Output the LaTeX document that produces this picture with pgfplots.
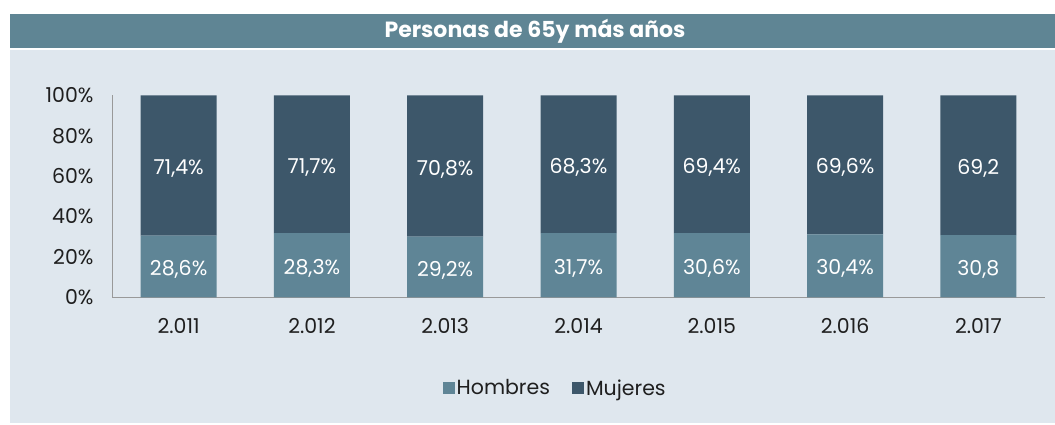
\documentclass[border=0pt]{standalone}
\usepackage{pgfplots}
\pgfplotsset{compat=1.18}
\usepackage{fontspec}
\setmainfont{Poppins}
\definecolor{hom}{RGB}{95,133,150}
\definecolor{muj}{RGB}{61,87,106}
\definecolor{bg}{RGB}{223,231,238}
\definecolor{tbar}{RGB}{95,133,148}
\newcommand{\fs}{\fontsize{20.5}{24}\selectfont}
\begin{document}
\begin{tikzpicture}[x=1pt,y=1pt]
\fill[white] (0,0) rectangle (1055,-424);
\fill[tbar] (10,-14) rectangle (1055,-48);
\fill[bg] (10,-50) rectangle (1055,-423);
\node[text=white, font=\fontsize{22}{26}\selectfont\bfseries] at (535,-31) {Personas de 65y más años};
\begin{axis}[
  at={(112pt,-297.3pt)}, anchor=south west,
  scale only axis, width=933pt, height=202pt,
  ybar stacked, bar width=76pt,
  xmin=-0.5, xmax=6.5, ymin=0, ymax=100,
  xtick={0,1,2,3,4,5,6},
  xticklabels={2.011,2.012,2.013,2.014,2.015,2.016,2.017},
  ytick={0,20,40,60,80,100},
  yticklabels={0\%,20\%,40\%,60\%,80\%,100\%},
  axis x line*=bottom, axis y line*=left,
  axis line style={-, draw=black!40, line width=1pt},
  tick style={draw=none},
  ticklabel style={font=\fs, text=black!88},
  yticklabel style={xshift=-15pt},
  xticklabel style={yshift=-18pt},
  clip=false,
  legend style={at={(0.475,-0.449)}, anchor=center, draw=none, fill=none,
    font=\fs, text=black!88, legend columns=2,
    /tikz/every even column/.append style={column sep=20pt}},
  legend image code/.code={\fill[#1] (0pt,-6pt) rectangle (12pt,6pt);},
]
\addplot[fill=hom, draw=none] coordinates {(0,30.5) (1,31.8) (2,30.0) (3,31.8) (4,31.8) (5,31.2) (6,30.8)};
\addplot[fill=muj, draw=none] coordinates {(0,69.5) (1,68.2) (2,70.0) (3,68.2) (4,68.2) (5,68.8) (6,69.2)};
\legend{Hombres,Mujeres}
\end{axis}
\begin{axis}[
  at={(112pt,-297.3pt)}, anchor=south west,
  scale only axis, width=933pt, height=202pt,
  xmin=-0.5, xmax=6.5, ymin=0, ymax=100,
  hide axis, clip=false,
]
\addplot[draw=none, nodes near coords, point meta=explicit symbolic,
  nodes near coords align=center,
  every node near coord/.append style={anchor=center, text=white, font=\fs, yshift=-3pt}]
  coordinates {(0,15.25)[28,6\%] (1,15.9)[28,3\%] (2,15.0)[29,2\%] (3,15.9)[31,7\%] (4,15.9)[30,6\%] (5,15.6)[30,4\%] (6,15.4)[30,8]};
\addplot[draw=none, nodes near coords, point meta=explicit symbolic,
  nodes near coords align=center,
  every node near coord/.append style={anchor=center, text=white, font=\fs, yshift=-3pt}]
  coordinates {(0,65.25)[71,4\%] (1,65.9)[71,7\%] (2,65.0)[70,8\%] (3,65.9)[68,3\%] (4,65.9)[69,4\%] (5,65.6)[69,6\%] (6,65.4)[69,2]};
\end{axis}
\pgfresetboundingbox
\path[use as bounding box] (0,0) rectangle (1055,-424);
\end{tikzpicture}
\end{document}
